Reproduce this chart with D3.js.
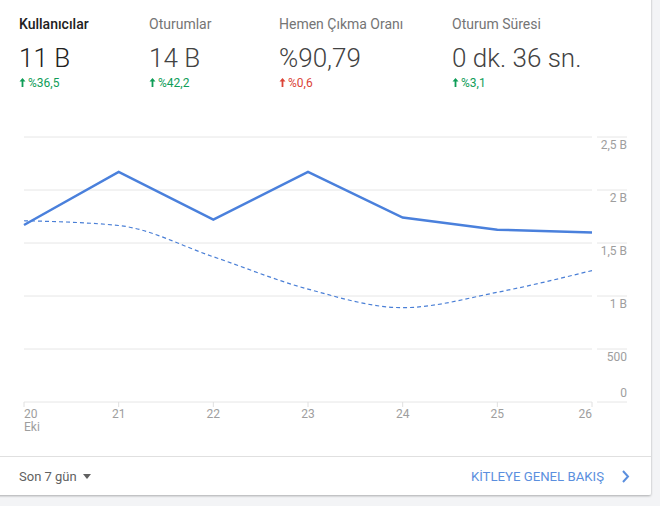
<!DOCTYPE html>
<html>
<head>
<meta charset="utf-8">
<script src="https://cdn.jsdelivr.net/npm/d3@7"></script>
<style>
  html, body { margin: 0; padding: 0; background: #f3f4f6; }
  svg { display: block; font-family: Roboto, "Noto Sans", sans-serif; }
</style>
</head>
<body>
<div id="chart"></div>
<script>
// header metrics
const metricNames = ['Kullanıcılar', 'Oturumlar', 'Hemen Çıkma Oranı', 'Oturum Süresi'];
const metricValues = ['11 B', '14 B', '%90,79', '0 dk. 36 sn.'];
const metricChanges = ['%36,5', '%42,2', '%0,6', '%3,1'];
const metricGood = [true, true, false, true];

// chart series (users per day)
const days = ['20', '21', '22', '23', '24', '25', '26'];
const usersCurrent = [1670, 2170, 1720, 2170, 1740, 1625, 1600];
const usersPrevious = [1710, 1665, 1370, 1065, 890, 1035, 1240];
const yTicks = [0, 500, 1000, 1500, 2000, 2500];
const yTickLabels = ['0', '500', '1 B', '1,5 B', '2 B', '2,5 B'];

const width = 660;
const height = 506;
const cardRight = 651;
const cardBottom = 495;

const svg = d3.select('#chart').append('svg')
  .attr('width', width)
  .attr('height', height);

// card + shadow
const defs = svg.append('defs');
const shadow = defs.append('filter').attr('id', 'shadow')
  .attr('x', '-5%').attr('y', '-5%').attr('width', '110%').attr('height', '110%');
shadow.append('feDropShadow')
  .attr('dx', 0).attr('dy', 1).attr('stdDeviation', 1.2)
  .attr('flood-color', '#000').attr('flood-opacity', 0.3);

svg.append('rect')
  .attr('x', -10).attr('y', -10)
  .attr('width', cardRight + 10).attr('height', cardBottom + 10)
  .attr('rx', 2)
  .attr('fill', '#fff')
  .attr('filter', 'url(#shadow)');

// header
const metricX = [19, 149, 279, 452];
const header = svg.append('g').attr('class', 'header');

metricNames.forEach((name, i) => {
  const g = header.append('g').attr('transform', `translate(${metricX[i]},0)`);
  g.append('text')
    .attr('y', 29)
    .attr('font-size', 14)
    .attr('fill', i === 0 ? '#212121' : '#757575')
    .attr('font-weight', i === 0 ? 500 : 400)
    .text(name);
  g.append('text')
    .attr('y', 67)
    .attr('font-size', 26)
    .attr('font-weight', 300)
    .attr('fill', i === 0 ? '#212121' : '#424242')
    .text(metricValues[i]);
  const color = metricGood[i] ? '#0f9d58' : '#db4437';
  // small up arrow
  g.append('path')
    .attr('d', 'M3.5,78 L0.5,81.5 L2.6,81.5 L2.6,87 L4.4,87 L4.4,81.5 L6.5,81.5 Z')
    .attr('fill', color);
  g.append('text')
    .attr('x', 9)
    .attr('y', 87)
    .attr('font-size', 12)
    .attr('fill', color)
    .text(metricChanges[i]);
});

// chart
const x = d3.scalePoint()
  .domain(days)
  .range([24, 592]);

const y = d3.scaleLinear()
  .domain([0, 2500])
  .range([402, 137]);

const chart = svg.append('g').attr('class', 'chart');

chart.selectAll('line.grid')
  .data(yTicks)
  .enter()
  .append('line')
  .attr('class', 'grid')
  .attr('x1', 24).attr('x2', 592)
  .attr('y1', d => y(d)).attr('y2', d => y(d))
  .attr('stroke', '#e6e6e6')
  .attr('stroke-width', 1);

chart.selectAll('line.grid-r')
  .data(yTicks)
  .enter()
  .append('line')
  .attr('class', 'grid-r')
  .attr('x1', 597).attr('x2', 627)
  .attr('y1', d => y(d)).attr('y2', d => y(d))
  .attr('stroke', '#e6e6e6')
  .attr('stroke-width', 1);

chart.selectAll('text.ylabel')
  .data(yTicks)
  .enter()
  .append('text')
  .attr('class', 'ylabel')
  .attr('x', 627)
  .attr('y', d => d === 0 ? y(d) - 5 : y(d) + 12)
  .attr('text-anchor', 'end')
  .attr('font-size', 12)
  .attr('fill', '#9e9e9e')
  .text((d, i) => yTickLabels[i]);

// x axis ticks + labels
chart.selectAll('line.xtick')
  .data(days)
  .enter()
  .append('line')
  .attr('class', 'xtick')
  .attr('x1', d => x(d)).attr('x2', d => x(d))
  .attr('y1', 402).attr('y2', 407)
  .attr('stroke', '#e0e0e0');

chart.selectAll('text.xlabel')
  .data(days)
  .enter()
  .append('text')
  .attr('class', 'xlabel')
  .attr('x', d => x(d))
  .attr('y', 418)
  .attr('text-anchor', (d, i) => i === 0 ? 'start' : (i === days.length - 1 ? 'end' : 'middle'))
  .attr('font-size', 12)
  .attr('fill', '#9e9e9e')
  .text(d => d);

chart.append('text')
  .attr('x', x(days[0]))
  .attr('y', 431)
  .attr('font-size', 12)
  .attr('fill', '#9e9e9e')
  .text('Eki');

const linePrev = d3.line()
  .x((d, i) => x(days[i]))
  .y(d => y(d))
  .curve(d3.curveMonotoneX);

const lineCur = d3.line()
  .x((d, i) => x(days[i]))
  .y(d => y(d));

chart.append('path')
  .attr('d', linePrev(usersPrevious))
  .attr('fill', 'none')
  .attr('stroke', '#4a7fd6')
  .attr('stroke-width', 1.2)
  .attr('stroke-dasharray', '4,3');

chart.append('path')
  .attr('d', lineCur(usersCurrent))
  .attr('fill', 'none')
  .attr('stroke', '#4a80dc')
  .attr('stroke-width', 2.5)
  .attr('stroke-linejoin', 'miter');

// footer
const footer = svg.append('g').attr('class', 'footer');

footer.append('line')
  .attr('x1', 0).attr('x2', cardRight)
  .attr('y1', 456.5).attr('y2', 456.5)
  .attr('stroke', '#e0e0e0');

footer.append('text')
  .attr('x', 19)
  .attr('y', 481)
  .attr('font-size', 13)
  .attr('fill', '#616161')
  .text('Son 7 gün');

footer.append('path')
  .attr('d', 'M83,474 L91,474 L87,479 Z')
  .attr('fill', '#616161');

footer.append('text')
  .attr('x', 604)
  .attr('y', 481)
  .attr('text-anchor', 'end')
  .attr('font-size', 13.2)
  .attr('fill', '#5b8fde')
  .text('KİTLEYE GENEL BAKIŞ');

footer.append('path')
  .attr('d', 'M623,471 L628,476.5 L623,482')
  .attr('fill', 'none')
  .attr('stroke', '#5b8fde')
  .attr('stroke-width', 2);
</script>
</body>
</html>
